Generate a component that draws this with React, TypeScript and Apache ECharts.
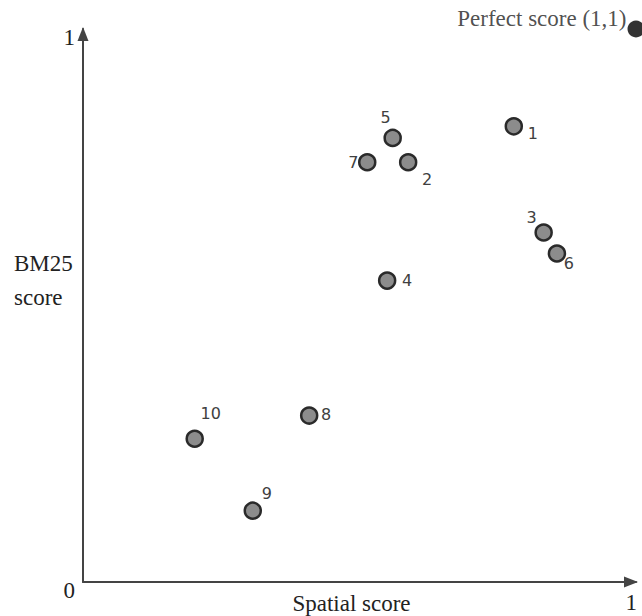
import React, { useEffect, useRef } from "react";
import * as echarts from "echarts";

// Result ids and their scores
const resultIds = ["1", "2", "3", "4", "5", "6", "7", "8", "9", "10"];
const spatialScores = [0.779, 0.588, 0.833, 0.55, 0.56, 0.857, 0.514, 0.409, 0.307, 0.202];
const bm25Scores = [0.824, 0.759, 0.632, 0.545, 0.803, 0.594, 0.759, 0.301, 0.129, 0.259];
const perfectPoint = [1, 1];
const perfectLabel = "Perfect score (1,1)";
const xAxisName = "Spatial score";
const yAxisName = "BM25\nscore";
const axisMin = 0;
const axisMax = 1;

// label offsets (styling only)
const labelOffsets: Record<string, [number, number]> = {
  "1": [19, 7],
  "2": [19, 17],
  "3": [-12, -15],
  "4": [20, 0],
  "5": [-7, -20],
  "6": [12, 10],
  "7": [-14, 0],
  "8": [17, -1],
  "9": [14, -17],
  "10": [16, -25],
};

const SERIF = "'Liberation Serif', 'Times New Roman', serif";
const SANS = "'DejaVu Sans', Verdana, sans-serif";

export default function App() {
  const ref = useRef<HTMLDivElement>(null);
  useEffect(() => {
    if (!ref.current) return;
    const chart = echarts.init(ref.current, undefined, { renderer: "svg" });
    const axisLine = {
      show: true,
      symbol: ["none", "triangle"],
      symbolSize: [11, 14],
      symbolOffset: [0, -5],
      lineStyle: { color: "#444", width: 2 },
    };
    const pts = resultIds.map((id, i) => ({
      value: [spatialScores[i], bm25Scores[i]],
      name: id,
      label: {
        show: true,
        position: "inside",
        offset: labelOffsets[id],
        formatter: id,
      },
    }));
    chart.setOption({
      animation: false,
      backgroundColor: "#fff",
      grid: {
        left: 83,
        right: 6,
        top: 29,
        bottom: 34,
        containLabel: false,
        outerBoundsMode: "none",
      },
      xAxis: {
        type: "value",
        min: axisMin,
        max: axisMax,
        interval: 1,
        name: xAxisName,
        nameLocation: "middle",
        nameGap: 10,
        nameMoveOverlap: false,
        nameTextStyle: {
          fontFamily: SERIF,
          fontSize: 23,
          color: "#222",
          padding: [0, 16, 0, 0],
        },
        axisLine,
        axisTick: { show: false },
        splitLine: { show: false },
        axisLabel: {
          show: true,
          margin: 9,
          align: "right",
          fontFamily: SERIF,
          fontSize: 23,
          color: "#222",
          padding: [0, -1, 0, 0],
          formatter: (v: number) => (v === axisMax ? String(v) : ""),
        },
      },
      yAxis: {
        type: "value",
        min: axisMin,
        max: axisMax,
        interval: 1,
        axisLine,
        axisTick: { show: false },
        splitLine: { show: false },
        axisLabel: {
          show: true,
          margin: 8,
          verticalAlign: "top",
          lineHeight: 17,
          fontFamily: SERIF,
          fontSize: 23,
          color: "#222",
          formatter: (v: number) => String(v),
        },
      },
      graphic: [
        {
          type: "text",
          left: 14,
          top: 246,
          style: {
            text: yAxisName,
            font: `23px ${SERIF}`,
            fill: "#222",
            lineHeight: 34,
          },
        },
      ],
      series: [
        {
          type: "scatter",
          clip: false,
          symbol: "circle",
          symbolSize: 16,
          itemStyle: { color: "#8c8c8c", borderColor: "#2a2a2a", borderWidth: 2.5, opacity: 1 },
          label: {
            fontFamily: SANS,
            fontSize: 16,
            color: "#404040",
          },
          emphasis: { disabled: true },
          data: pts,
        },
        {
          type: "scatter",
          clip: false,
          symbol: "circle",
          symbolSize: 17,
          itemStyle: { color: "#000" },
          label: {
            show: true,
            position: "left",
            distance: 1,
            offset: [0, -11],
            formatter: perfectLabel,
            fontFamily: SERIF,
            fontSize: 23,
            color: "#222",
          },
          emphasis: { disabled: true },
          data: [perfectPoint],
        },
      ],
    });
    return () => chart.dispose();
  }, []);
  return (
    <div
      ref={ref}
      style={{ position: "fixed", left: 0, top: 0, width: 642, height: 616 }}
    />
  );
}
